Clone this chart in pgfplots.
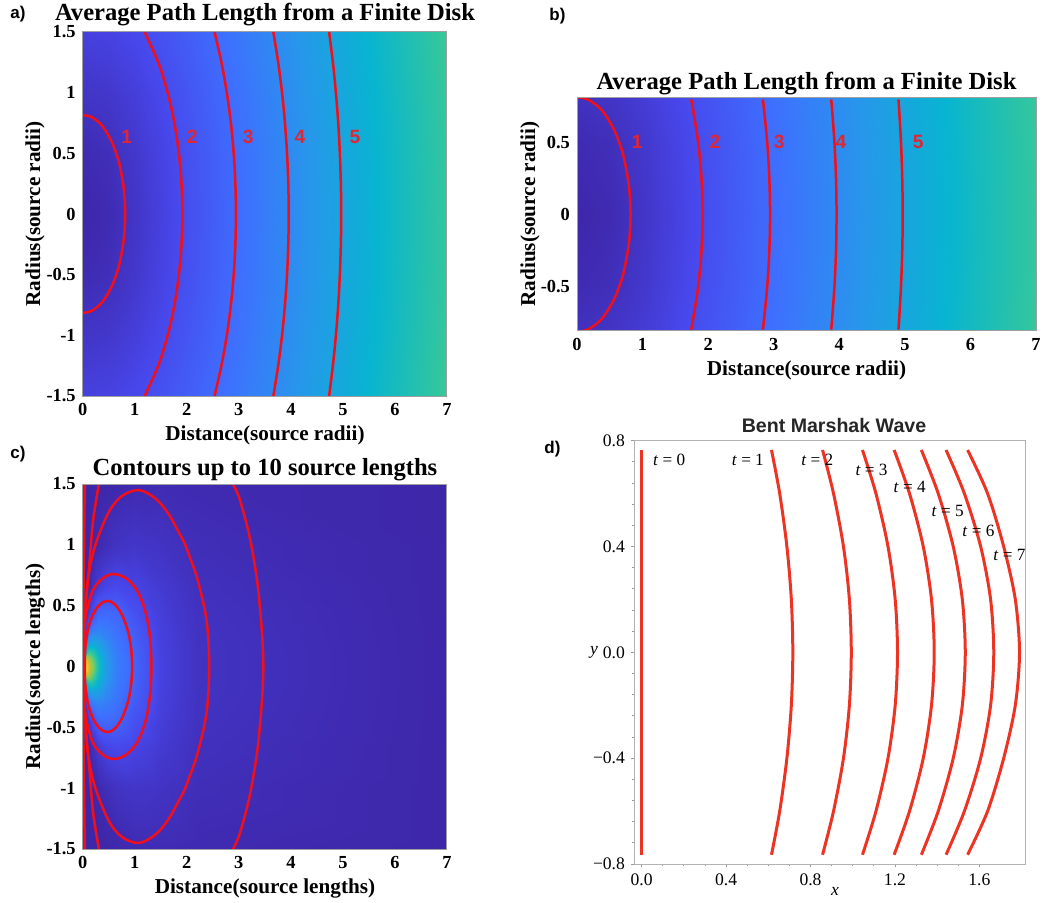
\documentclass[border=0pt]{standalone}
\usepackage{pgfplots}
\usepackage{pgfplotstable}
\pgfplotsset{compat=1.18}
\usepackage{fontspec}
\setmainfont{Liberation Serif}
\newfontfamily\arial{Liberation Sans}
\definecolor{cred}{rgb}{0.95,0.06,0.1}
\definecolor{lred}{rgb}{0.88,0.15,0.2}
\definecolor{mred}{rgb}{0.93,0.2,0.14}

\tikzset{clab/.style={text=lred, font=\arial\bfseries\fontsize{9.6}{10}\selectfont, inner sep=0pt}}
\pgfplotsset{
  colormap={parula}{rgb=(0.2422,0.1504,0.6603) rgb=(0.2803,0.2782,0.9221) rgb=(0.2440,0.4358,0.9988) rgb=(0.1540,0.5902,0.9218) rgb=(0.0297,0.7082,0.8163) rgb=(0.1938,0.7758,0.6251) rgb=(0.5044,0.7993,0.3480) rgb=(0.8634,0.7406,0.1596) rgb=(0.9892,0.8136,0.1885) rgb=(0.9598,0.8860,0.1647) rgb=(0.9763,0.9831,0.0538)},
  matax/.style={scale only axis, anchor=south west, axis line style={gray!75, line width=0.5pt},
    major tick length=0pt, minor tick length=0pt, tick style={draw=none},
    ticklabel style={font=\bfseries\fontsize{9.2}{10}\selectfont},
    /pgf/number format/assume math mode=true, axis on top, colormap name=parula,
    xmin=0, xmax=7, xtick={0,1,2,3,4,5,6,7}},
  cline/.style={cred, line width=1.25pt, smooth, tension=0.55},
}

\pgfplotstableread[row sep=\\]{
x y v\\
0 -1.5 1.607\\ 0.5 -1.5 1.683\\ 1 -1.5 1.893\\ 1.5 -1.5 2.198\\ 2 -1.5 2.566\\ 2.5 -1.5 2.972\\ 3 -1.5 3.403\\ 3.5 -1.5 3.851\\ 4 -1.5 4.311\\ 4.5 -1.5 4.778\\ 5 -1.5 5.252\\ 5.5 -1.5 5.730\\ 6 -1.5 6.212\\ 6.5 -1.5 6.696\\ 7 -1.5 7.182\\
0 -1 1.155\\ 0.5 -1 1.258\\ 1 -1 1.528\\ 1.5 -1 1.893\\ 2 -1 2.309\\ 2.5 -1 2.754\\ 3 -1 3.215\\ 3.5 -1 3.686\\ 4 -1 4.163\\ 4.5 -1 4.646\\ 5 -1 5.132\\ 5.5 -1 5.620\\ 6 -1 6.110\\ 6.5 -1 6.602\\ 7 -1 7.095\\
0 -0.5 0.764\\ 0.5 -0.5 0.913\\ 1 -0.5 1.258\\ 1.5 -0.5 1.683\\ 2 -0.5 2.141\\ 2.5 -0.5 2.614\\ 3 -0.5 3.096\\ 3.5 -0.5 3.582\\ 4 -0.5 4.072\\ 4.5 -0.5 4.564\\ 5 -0.5 5.058\\ 5.5 -0.5 5.553\\ 6 -0.5 6.048\\ 6.5 -0.5 6.545\\ 7 -0.5 7.042\\
0 0 0.577\\ 0.5 0 0.764\\ 1 0 1.155\\ 1.5 0 1.607\\ 2 0 2.082\\ 2.5 0 2.566\\ 3 0 3.055\\ 3.5 0 3.547\\ 4 0 4.041\\ 4.5 0 4.537\\ 5 0 5.033\\ 5.5 0 5.530\\ 6 0 6.028\\ 6.5 0 6.526\\ 7 0 7.024\\
0 0.5 0.764\\ 0.5 0.5 0.913\\ 1 0.5 1.258\\ 1.5 0.5 1.683\\ 2 0.5 2.141\\ 2.5 0.5 2.614\\ 3 0.5 3.096\\ 3.5 0.5 3.582\\ 4 0.5 4.072\\ 4.5 0.5 4.564\\ 5 0.5 5.058\\ 5.5 0.5 5.553\\ 6 0.5 6.048\\ 6.5 0.5 6.545\\ 7 0.5 7.042\\
0 1 1.155\\ 0.5 1 1.258\\ 1 1 1.528\\ 1.5 1 1.893\\ 2 1 2.309\\ 2.5 1 2.754\\ 3 1 3.215\\ 3.5 1 3.686\\ 4 1 4.163\\ 4.5 1 4.646\\ 5 1 5.132\\ 5.5 1 5.620\\ 6 1 6.110\\ 6.5 1 6.602\\ 7 1 7.095\\
0 1.5 1.607\\ 0.5 1.5 1.683\\ 1 1.5 1.893\\ 1.5 1.5 2.198\\ 2 1.5 2.566\\ 2.5 1.5 2.972\\ 3 1.5 3.403\\ 3.5 1.5 3.851\\ 4 1.5 4.311\\ 4.5 1.5 4.778\\ 5 1.5 5.252\\ 5.5 1.5 5.730\\ 6 1.5 6.212\\ 6.5 1.5 6.696\\ 7 1.5 7.182\\
}\tabA

\pgfplotstableread[row sep=\\]{
x y v\\
0 -1.5 0\\ 0.04 -1.5 0\\ 0.08 -1.5 0\\ 0.13 -1.5 0\\ 0.2 -1.5 0\\ 0.3 -1.5 0\\ 0.45 -1.5 0\\ 0.65 -1.5 0.005\\ 1 -1.5 0.013\\ 1.5 -1.5 0.017\\ 2.2 -1.5 0.013\\ 7 -1.5 0\\
0 -1 0\\ 0.04 -1 0\\ 0.08 -1 0\\ 0.13 -1 0\\ 0.2 -1 0\\ 0.3 -1 0.008\\ 0.45 -1 0.024\\ 0.65 -1 0.040\\ 1 -1 0.048\\ 1.5 -1 0.040\\ 2.2 -1 0.024\\ 7 -1 0\\
0 -0.65 0\\ 0.04 -0.65 0\\ 0.08 -0.65 0\\ 0.13 -0.65 0.011\\ 0.2 -0.65 0.034\\ 0.3 -0.65 0.066\\ 0.45 -0.65 0.092\\ 0.65 -0.65 0.103\\ 1 -0.65 0.089\\ 1.5 -0.65 0.061\\ 2.2 -0.65 0.031\\ 7 -0.65 0\\
0 -0.45 0\\ 0.04 -0.45 0\\ 0.08 -0.45 0.026\\ 0.13 -0.45 0.067\\ 0.2 -0.45 0.119\\ 0.3 -0.45 0.173\\ 0.45 -0.45 0.183\\ 0.65 -0.45 0.175\\ 1 -0.45 0.121\\ 1.5 -0.45 0.071\\ 2.2 -0.45 0.035\\ 7 -0.45 0\\
0 -0.3 0\\ 0.04 -0.3 0.035\\ 0.08 -0.3 0.120\\ 0.13 -0.3 0.196\\ 0.2 -0.3 0.234\\ 0.3 -0.3 0.250\\ 0.45 -0.3 0.234\\ 0.65 -0.3 0.202\\ 1 -0.3 0.146\\ 1.5 -0.3 0.077\\ 2.2 -0.3 0.037\\ 7 -0.3 0\\
0 -0.2 0\\ 0.04 -0.2 0.159\\ 0.08 -0.2 0.257\\ 0.13 -0.2 0.324\\ 0.2 -0.2 0.350\\ 0.3 -0.2 0.327\\ 0.45 -0.2 0.272\\ 0.65 -0.2 0.218\\ 1 -0.2 0.159\\ 1.5 -0.2 0.079\\ 2.2 -0.2 0.038\\ 7 -0.2 0\\
0 -0.13 0\\ 0.04 -0.13 0.309\\ 0.08 -0.13 0.459\\ 0.13 -0.13 0.496\\ 0.2 -0.13 0.467\\ 0.3 -0.13 0.387\\ 0.45 -0.13 0.296\\ 0.65 -0.13 0.227\\ 1 -0.13 0.165\\ 1.5 -0.13 0.081\\ 2.2 -0.13 0.039\\ 7 -0.13 0\\
0 -0.08 0\\ 0.04 -0.08 0.600\\ 0.08 -0.08 0.638\\ 0.13 -0.08 0.617\\ 0.2 -0.08 0.538\\ 0.3 -0.08 0.424\\ 0.45 -0.08 0.308\\ 0.65 -0.08 0.232\\ 1 -0.08 0.168\\ 1.5 -0.08 0.082\\ 2.2 -0.08 0.039\\ 7 -0.08 0\\
0 -0.04 0\\ 0.04 -0.04 0.768\\ 0.08 -0.04 0.750\\ 0.13 -0.04 0.661\\ 0.2 -0.04 0.583\\ 0.3 -0.04 0.443\\ 0.45 -0.04 0.314\\ 0.65 -0.04 0.234\\ 1 -0.04 0.169\\ 1.5 -0.04 0.082\\ 2.2 -0.04 0.039\\ 7 -0.04 0\\
0 0 0.850\\ 0.04 0 0.840\\ 0.08 0 0.768\\ 0.13 0 0.681\\ 0.2 0 0.600\\ 0.3 0 0.450\\ 0.45 0 0.317\\ 0.65 0 0.234\\ 1 0 0.170\\ 1.5 0 0.082\\ 2.2 0 0.039\\ 7 0 0\\
0 0.04 0\\ 0.04 0.04 0.768\\ 0.08 0.04 0.750\\ 0.13 0.04 0.661\\ 0.2 0.04 0.583\\ 0.3 0.04 0.443\\ 0.45 0.04 0.314\\ 0.65 0.04 0.234\\ 1 0.04 0.169\\ 1.5 0.04 0.082\\ 2.2 0.04 0.039\\ 7 0.04 0\\
0 0.08 0\\ 0.04 0.08 0.600\\ 0.08 0.08 0.638\\ 0.13 0.08 0.617\\ 0.2 0.08 0.538\\ 0.3 0.08 0.424\\ 0.45 0.08 0.308\\ 0.65 0.08 0.232\\ 1 0.08 0.168\\ 1.5 0.08 0.082\\ 2.2 0.08 0.039\\ 7 0.08 0\\
0 0.13 0\\ 0.04 0.13 0.309\\ 0.08 0.13 0.459\\ 0.13 0.13 0.496\\ 0.2 0.13 0.467\\ 0.3 0.13 0.387\\ 0.45 0.13 0.296\\ 0.65 0.13 0.227\\ 1 0.13 0.165\\ 1.5 0.13 0.081\\ 2.2 0.13 0.039\\ 7 0.13 0\\
0 0.2 0\\ 0.04 0.2 0.159\\ 0.08 0.2 0.257\\ 0.13 0.2 0.324\\ 0.2 0.2 0.350\\ 0.3 0.2 0.327\\ 0.45 0.2 0.272\\ 0.65 0.2 0.218\\ 1 0.2 0.159\\ 1.5 0.2 0.079\\ 2.2 0.2 0.038\\ 7 0.2 0\\
0 0.3 0\\ 0.04 0.3 0.035\\ 0.08 0.3 0.120\\ 0.13 0.3 0.196\\ 0.2 0.3 0.234\\ 0.3 0.3 0.250\\ 0.45 0.3 0.234\\ 0.65 0.3 0.202\\ 1 0.3 0.146\\ 1.5 0.3 0.077\\ 2.2 0.3 0.037\\ 7 0.3 0\\
0 0.45 0\\ 0.04 0.45 0\\ 0.08 0.45 0.026\\ 0.13 0.45 0.067\\ 0.2 0.45 0.119\\ 0.3 0.45 0.173\\ 0.45 0.45 0.183\\ 0.65 0.45 0.175\\ 1 0.45 0.121\\ 1.5 0.45 0.071\\ 2.2 0.45 0.035\\ 7 0.45 0\\
0 0.65 0\\ 0.04 0.65 0\\ 0.08 0.65 0\\ 0.13 0.65 0.011\\ 0.2 0.65 0.034\\ 0.3 0.65 0.066\\ 0.45 0.65 0.092\\ 0.65 0.65 0.103\\ 1 0.65 0.089\\ 1.5 0.65 0.061\\ 2.2 0.65 0.031\\ 7 0.65 0\\
0 1 0\\ 0.04 1 0\\ 0.08 1 0\\ 0.13 1 0\\ 0.2 1 0\\ 0.3 1 0.008\\ 0.45 1 0.024\\ 0.65 1 0.040\\ 1 1 0.048\\ 1.5 1 0.040\\ 2.2 1 0.024\\ 7 1 0\\
0 1.5 0\\ 0.04 1.5 0\\ 0.08 1.5 0\\ 0.13 1.5 0\\ 0.2 1.5 0\\ 0.3 1.5 0\\ 0.45 1.5 0\\ 0.65 1.5 0.005\\ 1 1.5 0.013\\ 1.5 1.5 0.017\\ 2.2 1.5 0.013\\ 7 1.5 0\\
}\tabC

\begin{document}
\begin{tikzpicture}
\path[use as bounding box] (0,0) rectangle (524pt,-451.5pt);
\fill[white] (0,0) rectangle (524pt,-451.5pt);

% ---------------- panel a
\begin{axis}[matax, at={(41.35pt,-198pt)}, width=182.15pt, height=182pt,
  ymin=-1.5, ymax=1.5, ytick={-1.5,-1,-0.5,0,0.5,1,1.5},
  point meta min=0.577, point meta max=13.4]
\addplot[surf, shader=interp, mesh/cols=15, point meta=explicit] table[x=x,y=y,meta=v] {\tabA};
\addplot[cline] coordinates {(0,0.816) (0.163,0.8) (0.323,0.75) (0.42,0.7) (0.554,0.6) (0.645,0.5) (0.712,0.4) (0.792,0.2) (0.816,0) (0.792,-0.2) (0.712,-0.4) (0.645,-0.5) (0.554,-0.6) (0.42,-0.7) (0.323,-0.75) (0.163,-0.8) (0,-0.816)};
\addplot[cline] coordinates {(1.190,1.5) (1.451,1.25) (1.633,1) (1.762,0.75) (1.848,0.5) (1.898,0.25) (1.915,0) (1.898,-0.25) (1.848,-0.5) (1.762,-0.75) (1.633,-1) (1.451,-1.25) (1.190,-1.5)};
\addplot[cline] coordinates {(2.533,1.5) (2.665,1.25) (2.769,1) (2.847,0.75) (2.901,0.5) (2.933,0.25) (2.944,0) (2.933,-0.25) (2.901,-0.5) (2.847,-0.75) (2.769,-1) (2.665,-1.25) (2.533,-1.5)};
\addplot[cline] coordinates {(3.663,1.5) (3.756,1.25) (3.830,1) (3.886,0.75) (3.926,0.5) (3.950,0.25) (3.958,0) (3.950,-0.25) (3.926,-0.5) (3.886,-0.75) (3.830,-1) (3.756,-1.25) (3.663,-1.5)};
\addplot[cline] coordinates {(4.735,1.5) (4.807,1.25) (4.865,1) (4.910,0.75) (4.941,0.5) (4.960,0.25) (4.967,0) (4.960,-0.25) (4.941,-0.5) (4.910,-0.75) (4.865,-1) (4.807,-1.25) (4.735,-1.5)};
\node[clab] at (axis cs:0.845,0.637) {1};
\node[clab] at (axis cs:2.106,0.637) {2};
\node[clab] at (axis cs:3.18,0.637) {3};
\node[clab] at (axis cs:4.175,0.637) {4};
\node[clab] at (axis cs:5.23,0.637) {5};
\end{axis}

% ---------------- panel b
\begin{axis}[matax, at={(288.5pt,-165.5pt)}, width=229.5pt, height=116.5pt,
  ymin=-0.81, ymax=0.81, ytick={-0.5,0,0.5},
  point meta min=0.577, point meta max=13.4]
\addplot[surf, shader=interp, mesh/cols=15, point meta=explicit] table[x=x,y=y,meta=v] {\tabA};
\addplot[cline] coordinates {(0,0.816) (0.163,0.8) (0.323,0.75) (0.42,0.7) (0.554,0.6) (0.645,0.5) (0.712,0.4) (0.792,0.2) (0.816,0) (0.792,-0.2) (0.712,-0.4) (0.645,-0.5) (0.554,-0.6) (0.42,-0.7) (0.323,-0.75) (0.163,-0.8) (0,-0.816)};
\addplot[cline] coordinates {(1.740,0.8) (1.762,0.75) (1.848,0.5) (1.898,0.25) (1.915,0) (1.898,-0.25) (1.848,-0.5) (1.762,-0.75) (1.740,-0.8)};
\addplot[cline] coordinates {(2.833,0.8) (2.847,0.75) (2.901,0.5) (2.933,0.25) (2.944,0) (2.933,-0.25) (2.901,-0.5) (2.847,-0.75) (2.833,-0.8)};
\addplot[cline] coordinates {(3.876,0.8) (3.886,0.75) (3.926,0.5) (3.950,0.25) (3.958,0) (3.950,-0.25) (3.926,-0.5) (3.886,-0.75) (3.876,-0.8)};
\addplot[cline] coordinates {(4.902,0.8) (4.910,0.75) (4.941,0.5) (4.960,0.25) (4.967,0) (4.960,-0.25) (4.941,-0.5) (4.910,-0.75) (4.902,-0.8)};
\node[clab] at (axis cs:0.92,0.505) {1};
\node[clab] at (axis cs:2.105,0.505) {2};
\node[clab] at (axis cs:3.085,0.505) {3};
\node[clab] at (axis cs:4.026,0.505) {4};
\node[clab] at (axis cs:5.205,0.505) {5};
\end{axis}

% ---------------- panel c
\begin{axis}[matax, at={(41.35pt,-424.5pt)}, width=182.15pt, height=182.5pt,
  ymin=-1.5, ymax=1.5, ytick={-1.5,-1,-0.5,0,0.5,1,1.5},
  point meta min=0, point meta max=1]
\addplot[surf, shader=interp, mesh/cols=12, point meta=explicit] table[x=x,y=y,meta=v] {\tabC};
\addplot[cline] coordinates {(0.04,0) (0.05,0.15) (0.1,0.3) (0.2,0.43) (0.33,0.51) (0.47,0.54) (0.62,0.51) (0.76,0.42) (0.87,0.29) (0.93,0.15) (0.95,0) (0.93,-0.15) (0.87,-0.29) (0.76,-0.42) (0.62,-0.51) (0.47,-0.54) (0.33,-0.51) (0.2,-0.43) (0.1,-0.3) (0.05,-0.15) (0.04,0)};
\addplot[cline] coordinates {(0.01,0) (0.03,0.3) (0.07,0.44) (0.2,0.63) (0.4,0.73) (0.61,0.76) (0.85,0.72) (1.05,0.62) (1.2,0.46) (1.29,0.25) (1.32,0) (1.29,-0.25) (1.2,-0.46) (1.05,-0.62) (0.85,-0.72) (0.61,-0.76) (0.4,-0.73) (0.2,-0.63) (0.07,-0.44) (0.03,-0.3) (0.01,0)};
\addplot[cline] coordinates {(0.01,0) (0.05,0.44) (0.1,0.71) (0.23,0.98) (0.49,1.26) (0.75,1.4) (1.08,1.45) (1.4,1.38) (1.64,1.26) (1.85,1.1) (1.96,1.01) (2.1,0.85) (2.21,0.71) (2.38,0.38) (2.43,0) (2.38,-0.38) (2.21,-0.71) (2.1,-0.85) (1.96,-1.01) (1.85,-1.1) (1.64,-1.26) (1.4,-1.38) (1.08,-1.45) (0.75,-1.4) (0.49,-1.26) (0.23,-0.98) (0.1,-0.71) (0.05,-0.44) (0.01,0)};
\addplot[cline] coordinates {(0.34,1.6) (0.31,1.5) (0.2,1.2) (0.13,0.85) (0.06,0.5) (0.01,0) (0.06,-0.5) (0.13,-0.85) (0.2,-1.2) (0.31,-1.5) (0.34,-1.6)};
\addplot[cline] coordinates {(2.8,1.6) (2.89,1.5) (3.02,1.37) (3.22,1.04) (3.38,0.6) (3.47,0) (3.38,-0.6) (3.22,-1.04) (3.02,-1.37) (2.89,-1.5) (2.8,-1.6)};
\addplot[cline] coordinates {(0.05,1.6) (0.04,1.5) (0.02,0.8) (0.005,0.3) (0,0) (0.005,-0.3) (0.02,-0.8) (0.04,-1.5) (0.05,-1.6)};
\end{axis}

% ---------------- panel d
\begin{axis}[scale only axis, anchor=south west, at={(317pt,-432pt)}, width=195.5pt, height=211.65pt,
  xmin=-0.0363, xmax=1.816, ymin=-0.8, ymax=0.8,
  xtick={0,0.4,0.8,1.2,1.6}, xticklabels={0.0,0.4,0.8,1.2,1.6},
  ytick={-0.8,-0.4,0,0.4,0.8}, yticklabels={−0.8,−0.4,0.0,0.4,0.8},
  minor x tick num=3, minor y tick num=4,
  xtick pos=lower, ytick pos=left, tick align=outside,
  major tick length=1.5pt, minor tick length=1pt,
  tick style={gray!80, line width=0.4pt}, axis line style={gray!60, line width=0.5pt},
  ticklabel style={font=\fontsize{8.8}{9}\selectfont},
  yticklabel style={xshift=0.5pt}]
\addplot[mred, line width=1.5pt] coordinates {(0,-0.765) (0,0.765)};
\addplot[mred, line width=1.5pt, smooth] coordinates {(0.615,0.765) (0.654,0.6) (0.688,0.4) (0.709,0.2) (0.716,0) (0.709,-0.2) (0.688,-0.4) (0.654,-0.6) (0.615,-0.765)};
\addplot[mred, line width=1.5pt, smooth] coordinates {(0.857,0.765) (0.909,0.6) (0.956,0.4) (0.984,0.2) (0.993,0) (0.984,-0.2) (0.956,-0.4) (0.909,-0.6) (0.857,-0.765)};
\addplot[mred, line width=1.5pt, smooth] coordinates {(1.046,0.765) (1.110,0.6) (1.167,0.4) (1.201,0.2) (1.212,0) (1.201,-0.2) (1.167,-0.4) (1.110,-0.6) (1.046,-0.765)};
\addplot[mred, line width=1.5pt, smooth] coordinates {(1.196,0.765) (1.269,0.6) (1.334,0.4) (1.373,0.2) (1.386,0) (1.373,-0.2) (1.334,-0.4) (1.269,-0.6) (1.196,-0.765)};
\addplot[mred, line width=1.5pt, smooth] coordinates {(1.325,0.765) (1.405,0.6) (1.476,0.4) (1.519,0.2) (1.533,0) (1.519,-0.2) (1.476,-0.4) (1.405,-0.6) (1.325,-0.765)};
\addplot[mred, line width=1.5pt, smooth] coordinates {(1.442,0.765) (1.529,0.6) (1.606,0.4) (1.653,0.2) (1.668,0) (1.653,-0.2) (1.606,-0.4) (1.529,-0.6) (1.442,-0.765)};
\addplot[mred, line width=1.5pt, smooth] coordinates {(1.544,0.765) (1.639,0.6) (1.715,0.4) (1.770,0.2) (1.790,0) (1.770,-0.2) (1.715,-0.4) (1.639,-0.6) (1.544,-0.765)};
\begin{scope}[every node/.style={font=\fontsize{8.6}{9}\selectfont, inner sep=0pt}]
\node at (axis cs:0.13,0.727) {\textit{t} = 0};
\node at (axis cs:0.503,0.727) {\textit{t} = 1};
\node at (axis cs:0.832,0.727) {\textit{t} = 2};
\node at (axis cs:1.089,0.689) {\textit{t} = 3};
\node at (axis cs:1.27,0.626) {\textit{t} = 4};
\node at (axis cs:1.45,0.535) {\textit{t} = 5};
\node at (axis cs:1.595,0.46) {\textit{t} = 6};
\node at (axis cs:1.742,0.368) {\textit{t} = 7};
\end{scope}
\end{axis}

% ---------------- titles, labels
\begin{scope}[every node/.style={inner sep=0pt}]
\node[anchor=base, font=\bfseries\fontsize{12.3}{13}\selectfont] at (132.5pt,-10.4pt) {Average Path Length from a Finite Disk};
\node[anchor=base, font=\bfseries\fontsize{12.3}{13}\selectfont] at (403.25pt,-44.7pt) {Average Path Length from a Finite Disk};
\node[anchor=base, font=\bfseries\fontsize{12.3}{13}\selectfont] at (132.5pt,-237.5pt) {Contours up to 10 source lengths};
\node[anchor=base, font=\arial\bfseries\fontsize{9.8}{10}\selectfont, text=black!85] at (417pt,-216.3pt) {Bent Marshak Wave};

\node[anchor=base, font=\bfseries\fontsize{10.6}{11}\selectfont] at (132.5pt,-220.3pt) {Distance(source radii)};
\node[anchor=base, font=\bfseries\fontsize{10.6}{11}\selectfont] at (403.25pt,-187.5pt) {Distance(source radii)};
\node[anchor=base, font=\bfseries\fontsize{10.6}{11}\selectfont] at (132.5pt,-446.7pt) {Distance(source lengths)};
\node[rotate=90, font=\bfseries\fontsize{10.6}{11}\selectfont] at (17.5pt,-107pt) {Radius(source radii)};
\node[rotate=90, font=\bfseries\fontsize{10.6}{11}\selectfont] at (265pt,-107pt) {Radius(source radii)};
\node[rotate=90, font=\bfseries\fontsize{10.6}{11}\selectfont] at (17.5pt,-333.25pt) {Radius(source lengths)};
\node[font=\itshape\fontsize{8.8}{9}\selectfont] at (297pt,-326.35pt) {y};
\node[font=\itshape\fontsize{8.8}{9}\selectfont] at (417.5pt,-445.85pt) {x};

\node[anchor=base west, font=\arial\bfseries\fontsize{8.5}{9}\selectfont] at (5pt,-9.2pt) {a)};
\node[anchor=base west, font=\arial\bfseries\fontsize{8.5}{9}\selectfont] at (274.5pt,-10.5pt) {b)};
\node[anchor=base west, font=\arial\bfseries\fontsize{8.5}{9}\selectfont] at (5pt,-229.2pt) {c)};
\node[anchor=base west, font=\arial\bfseries\fontsize{8.5}{9}\selectfont] at (272pt,-226.5pt) {d)};
\end{scope}
\end{tikzpicture}
\end{document}
